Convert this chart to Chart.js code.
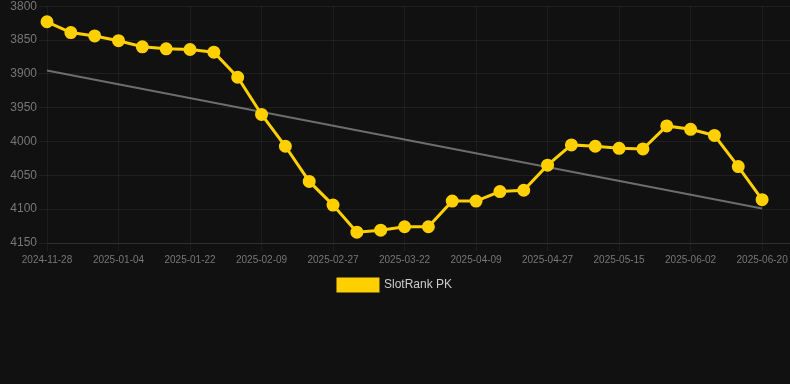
<!DOCTYPE html>
<html>
<head>
<meta charset="utf-8">
<script src="https://cdn.jsdelivr.net/npm/chart.js@4"></script>
<style>
  html, body { margin: 0; padding: 0; background: #111111; }
  #wrap { width: 790px; height: 301px; position: relative; }
</style>
</head>
<body>
<div id="wrap"><canvas id="chart"></canvas></div>
<script>
// dates (only every 3rd one is shown on the axis)
const dates = [
  "2024-11-28", "2024-12-23", "2024-12-29", "2025-01-04", "2025-01-10", "2025-01-16",
  "2025-01-22", "2025-01-28", "2025-02-03", "2025-02-09", "2025-02-15", "2025-02-21",
  "2025-02-27", "2025-03-06", "2025-03-14", "2025-03-22", "2025-03-28", "2025-04-03",
  "2025-04-09", "2025-04-15", "2025-04-21", "2025-04-27", "2025-05-03", "2025-05-09",
  "2025-05-15", "2025-05-21", "2025-05-27", "2025-06-02", "2025-06-08", "2025-06-14",
  "2025-06-20"
];

const rankValues = [
  3823, 3839, 3844, 3851, 3860, 3863, 3864, 3868, 3905, 3960,
  4007, 4059, 4094, 4134, 4131, 4126, 4126, 4088, 4088, 4074,
  4072, 4035, 4005, 4007, 4010, 4011, 3977, 3982, 3991, 4037,
  4086
];

// trend line: start and end only
const trendStart = 3895;
const trendEnd = 4099;
const trendValues = dates.map((d, i) => i === 0 ? trendStart : (i === dates.length - 1 ? trendEnd : null));

const yMin = 3800;
const yMax = 4150;
const yStep = 50;

const font = "Arial, 'Liberation Sans', sans-serif";

const ctx = document.getElementById("chart").getContext("2d");
new Chart(ctx, {
  type: "line",
  data: {
    labels: dates,
    datasets: [
      {
        label: "SlotRank PK",
        data: rankValues,
        borderColor: "#FFD000",
        backgroundColor: "#FFD000",
        borderWidth: 3,
        pointRadius: 5,
        pointHoverRadius: 6,
        pointBackgroundColor: "#FFD000",
        pointBorderColor: "#FFD000",
        tension: 0
      },
      {
        label: "trend",
        data: trendValues,
        borderColor: "rgba(140,140,140,0.75)",
        borderWidth: 2,
        pointRadius: 0,
        spanGaps: true,
        fill: false
      }
    ]
  },
  options: {
    responsive: true,
    maintainAspectRatio: false,
    animation: false,
    layout: { autoPadding: false, padding: { top: 0, right: 0, left: 0, bottom: 0 } },
    plugins: {
      legend: {
        position: "bottom",
        labels: {
          color: "#cccccc",
          font: { family: font, size: 12 },
          boxWidth: 40,
          boxHeight: 12,
          filter: item => item.text !== "trend"
        }
      },
      tooltip: { enabled: true }
    },
    scales: {
      x: {
        // leave some empty room after the last date, like the original
        afterBuildTicks: scale => { scale._valueRange = dates.length - 1 + 1.17; },
        afterFit: scale => { scale.paddingLeft = 0; scale.paddingRight = 0; },
        grid: { color: "rgba(255,255,255,0.05)", tickLength: 8 },
        border: { color: "rgba(255,255,255,0.08)" },
        ticks: {
          autoSkip: false,
          maxRotation: 0,
          color: "#777777",
          font: { family: font, size: 10 },
          callback: function (val, i) { return i % 3 === 0 && dates[i] ? dates[i] : null; }
        }
      },
      y: {
        reverse: true,
        min: yMin,
        max: yMax,
        afterFit: scale => { scale.width = 47; scale.paddingTop = Math.max(scale.paddingTop - 3, 0); },
        grid: { color: "rgba(255,255,255,0.06)", tickLength: 8 },
        border: { display: false },
        ticks: {
          stepSize: yStep,
          color: "#777777",
          padding: 2,
          font: { family: font, size: 12 },
          callback: v => String(v)
        }
      }
    }
  }
});
</script>
</body>
</html>
